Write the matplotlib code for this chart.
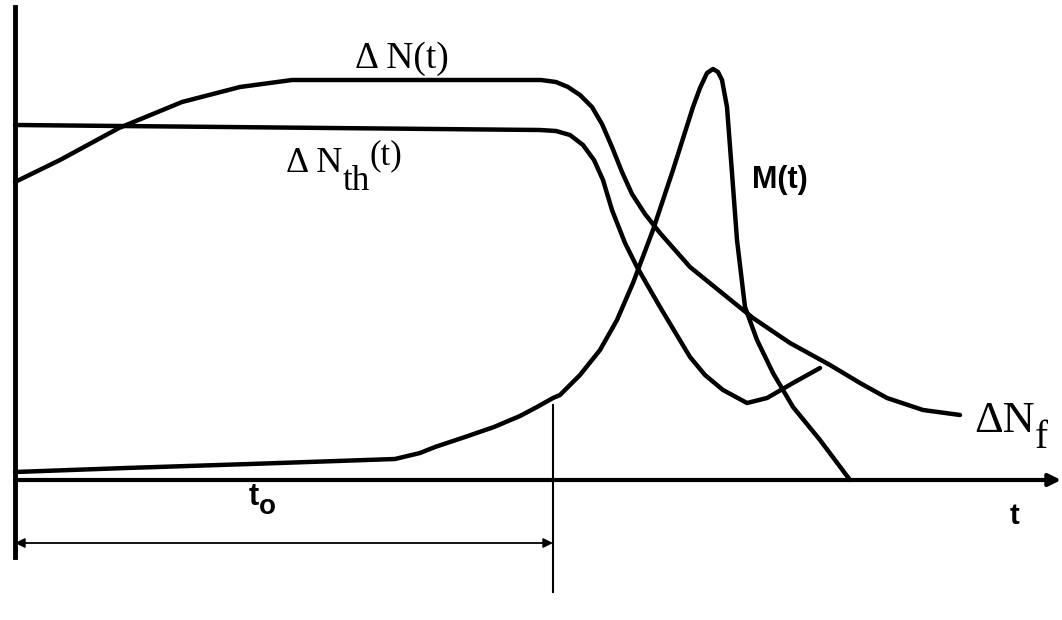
import matplotlib.pyplot as plt

# Curve samples on the drawing grid (x to the right, y downwards)
dn_t = [15, 60, 119, 182, 240, 292, 541, 556, 568, 580, 592, 602, 612, 622, 632,
        645, 660, 690, 727, 753, 790, 830, 860, 887, 923, 960]
dn_y = [182, 160, 128, 102, 87, 80, 80, 82, 87, 95, 107, 124, 147, 172, 194,
        214, 233, 267, 297, 318, 343, 365, 383, 398, 410, 415]

dnth_t = [15, 540, 556, 570, 583, 594, 603, 612, 625, 637, 660, 690, 705, 723,
          747, 767, 793, 820]
dnth_y = [125, 130, 131, 135, 145, 160, 180, 210, 243, 267, 307, 357, 375, 390,
          403, 398, 383, 368]

m_t = [15, 126, 250, 395, 420, 435, 465, 494, 520, 537, 553, 560, 580, 600, 617,
       633, 653, 673, 693, 700, 707, 713, 718, 722, 727, 732, 737, 745, 757, 773,
       793, 820, 850]
m_y = [472, 468, 464, 459, 453, 447, 437, 427, 416, 407, 398, 395, 375, 350, 320,
       283, 230, 170, 107, 88, 73, 69, 72, 80, 107, 173, 240, 307, 340, 373,
       407, 440, 480]

t_axis_y = 480
t0 = 553

fig = plt.figure(figsize=(10.62, 6.2), dpi=100)
ax = fig.add_axes([0, 0, 1, 1])
ax.set_xlim(0, 1062)
ax.set_ylim(620, 0)
ax.axis('off')

lw = 3.2
for xs, ys in [(dn_t, dn_y), (dnth_t, dnth_y), (m_t, m_y)]:
    ax.plot(xs, ys, color='black', lw=lw, solid_joinstyle='round',
            solid_capstyle='round')

# axes
ax.plot([15, 15], [7, 557], color='black', lw=3.5)
ax.annotate('', xy=(1061, t_axis_y), xytext=(15, t_axis_y),
            arrowprops=dict(arrowstyle='-|>', lw=3, color='black',
                            mutation_scale=18, shrinkA=0, shrinkB=0))

# t0 marker
ax.plot([t0, t0], [405, 592], color='black', lw=1.5)
ax.annotate('', xy=(t0, 543), xytext=(15, 543),
            arrowprops=dict(arrowstyle='<|-|>', lw=1.3, color='black',
                            mutation_scale=14, shrinkA=0, shrinkB=0))

renderer = fig.canvas.get_renderer()


def chain(x, y, parts, **kw):
    """Write pieces one after another; each piece is (text, dy, size)."""
    for s, dy, size in parts:
        t = ax.text(x, y + dy, s, fontsize=size, va='baseline', **kw)
        bb = t.get_window_extent(renderer)
        x = ax.transData.inverted().transform((bb.x1, bb.y0))[0]


serif = dict(family='Liberation Serif')
sans = dict(family='Liberation Sans', fontweight='bold')

chain(355, 68, [('\u0394 N(t)', 0, 27)], **serif)
chain(286, 172, [('\u0394 N', 0, 26), ('th', 18, 25), ('(t)', -8, 25)], **serif)
chain(974, 432, [('\u0394N', 0, 32), ('f', 16, 28)], **serif)

chain(752, 188, [('M(t)', 0, 22)], **sans)
chain(1010, 524, [('t', 0, 21)], **sans)
chain(249, 505, [('t', 0, 22), ('o', 9, 20)], **sans)

fig.savefig('out.png', dpi=100)
